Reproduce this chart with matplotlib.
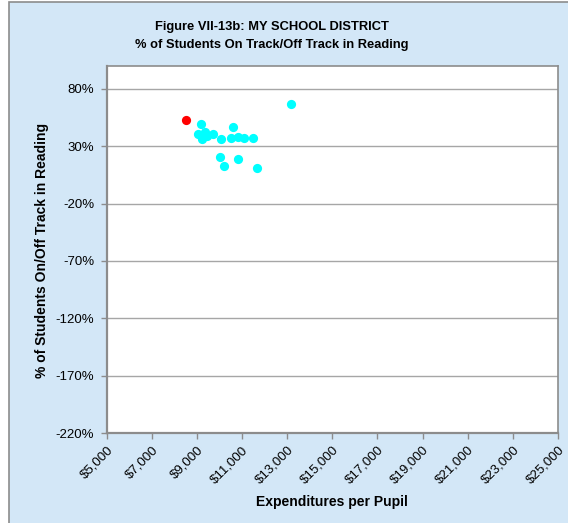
import matplotlib
matplotlib.use("Agg")
import matplotlib.pyplot as plt
from matplotlib.patches import Rectangle
from matplotlib.ticker import FuncFormatter

plt.rcParams['font.family'] = ['Liberation Sans', 'DejaVu Sans']

# district of interest (red) and comparison districts (cyan)
my_x = [8510]
my_y = [53]
other_x = [13170, 9170, 10600, 9030, 9360, 9700, 9210, 9430, 10060, 10520,
           10800, 11100, 11470, 10030, 10820, 10210, 11670]
other_y = [66.5, 49.5, 47, 40.5, 42.5, 41, 36, 39, 36, 37,
           38, 37, 37.5, 21, 18.5, 12.5, 11]

x_ticks = list(range(5000, 25001, 2000))
y_ticks = list(range(-220, 81, 50))

fig = plt.figure(figsize=(5.68, 5.23), dpi=100)
fig.patch.set_facecolor('white')
bg = Rectangle((9 / 568, -0.01), 1.02 - 9 / 568, 1.01 - 1.5 / 523,
               transform=fig.transFigure, facecolor='#D3E7F7',
               edgecolor='#8C8C8C', linewidth=1.2, zorder=-10)
fig.add_artist(bg)

ax = fig.add_axes([106.7 / 568, 1 - 433 / 523, (558 - 106.7) / 568, (433 - 66) / 523])
ax.set_facecolor('white')

ax.scatter(other_x, other_y, s=44, color='#00FFFF', zorder=3, linewidths=0)
ax.scatter(my_x, my_y, s=44, color='#FF0000', zorder=3, linewidths=0)

ax.set_xlim(5000, 25000)
ax.set_ylim(-220, 100)
ax.set_xticks(x_ticks)
ax.set_yticks(y_ticks)
ax.xaxis.set_major_formatter(FuncFormatter(lambda v, p: '${:,.0f}'.format(v)))
ax.yaxis.set_major_formatter(FuncFormatter(lambda v, p: '{:.0f}%'.format(v)))
ax.grid(axis='y', color='#A6A6A6', linewidth=1)
ax.set_axisbelow(True)

for s in ax.spines.values():
    s.set_color('#8C8C8C')
    s.set_linewidth(1.2)
ax.spines['left'].set_linewidth(1.6)
ax.spines['bottom'].set_linewidth(1.6)

ax.tick_params(axis='both', colors='#8C8C8C', labelcolor='black', labelsize=9.5,
               length=4, width=1)
ax.tick_params(axis='y', pad=5)
ax.tick_params(axis='x', pad=4)
for lbl in ax.get_xticklabels():
    lbl.set_rotation(45)
    lbl.set_ha('right')
    lbl.set_rotation_mode('anchor')

fig.text(272 / 568, 1 - 27 / 523, 'Figure VII-13b: MY SCHOOL DISTRICT',
         ha='center', va='center', fontsize=9.25, fontweight='bold')
fig.text(272 / 568, 1 - 45 / 523, '% of Students On Track/Off Track in Reading',
         ha='center', va='center', fontsize=9.25, fontweight='bold')
fig.text(332 / 568, 1 - 502 / 523, 'Expenditures per Pupil',
         ha='center', va='center', fontsize=10, fontweight='bold')
fig.text(42 / 568, 1 - 250 / 523, '% of Students On/Off Track in Reading',
         ha='center', va='center', fontsize=10, fontweight='bold', rotation=90)

plt.savefig('out.png', dpi=100)
